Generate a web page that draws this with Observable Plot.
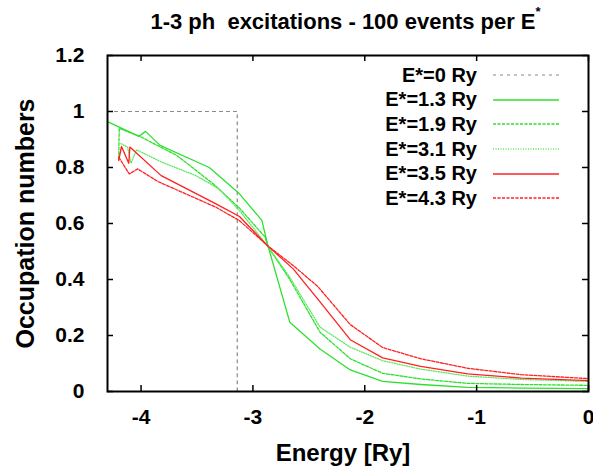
<!DOCTYPE html>
<html><head><meta charset="utf-8">
<script src="https://cdn.jsdelivr.net/npm/d3@7"></script>
<script src="https://cdn.jsdelivr.net/npm/@observablehq/plot@0.6"></script>
<style>
body{margin:0;background:#fff;}
#wrap{position:relative;width:593px;height:466px;font-family:"Liberation Sans",Arial,sans-serif;font-weight:bold;color:#000;}
#title{position:absolute;left:0;width:593px;top:9px;padding-left:98px;box-sizing:border-box;text-align:center;font-size:22px;white-space:pre;}
#title sup{font-size:13px;position:relative;top:-5px;}
#legend{position:absolute;left:340px;top:63px;}
.row{display:flex;align-items:center;height:24.6px;}
.row span{display:inline-block;width:137px;text-align:right;font-size:20px;}
.row svg{margin-left:16px;}
</style></head><body><div id="wrap"><div id="title"></div><div id="legend"></div></div>
<script>
// Series labels
const labels = ["E*=0 Ry","E*=1.3 Ry","E*=1.9 Ry","E*=3.1 Ry","E*=3.5 Ry","E*=4.3 Ry"];
// E*=0
const e0X = [-4.3, -3.14, -3.14, 0];
const e0Y = [1, 1, 0, 0];
// E*=1.3
const e13X = [-4.30, -4.02, -3.96, -3.83, -3.39, -3.12, -2.92, -2.87, -2.67, -2.40, -2.13, -1.84, -1.50, -1.08, -0.6, 0];
const e13Y = [0.964, 0.911, 0.929, 0.879, 0.80, 0.706, 0.611, 0.527, 0.247, 0.152, 0.077, 0.036, 0.025, 0.015, 0.012, 0.010];
// E*=1.9
const e19X = [-4.20, -4.195, -4.01, -3.68, -3.35, -3.12, -2.89, -2.87, -2.67, -2.40, -2.13, -1.84, -1.50, -1.08, -0.6, 0];
const e19Y = [0.83, 0.94, 0.911, 0.843, 0.74, 0.655, 0.551, 0.52, 0.40, 0.212, 0.117, 0.065, 0.045, 0.029, 0.025, 0.022];
// E*=3.1
const e31X = [-4.18, -4.12, -4.09, -4.04, -3.82, -3.51, -3.30, -3.12, -2.87, -2.67, -2.40, -2.13, -1.84, -1.50, -1.08, -0.6, 0];
const e31Y = [0.885, 0.873, 0.815, 0.863, 0.82, 0.771, 0.723, 0.646, 0.52, 0.408, 0.23, 0.158, 0.11, 0.08, 0.055, 0.043, 0.036];
// E*=3.5
const e35X = [-4.20, -4.175, -4.11, -4.10, -3.82, -3.33, -3.12, -2.87, -2.64, -2.40, -2.13, -1.84, -1.50, -1.08, -0.6, 0];
const e35Y = [0.825, 0.875, 0.815, 0.873, 0.771, 0.67, 0.625, 0.521, 0.438, 0.32, 0.185, 0.12, 0.09, 0.063, 0.048, 0.039];
// E*=4.3
const e43X = [-4.20, -4.105, -4.03, -3.85, -3.33, -3.12, -2.87, -2.64, -2.42, -2.13, -1.84, -1.50, -1.08, -0.6, 0];
const e43Y = [0.837, 0.777, 0.795, 0.75, 0.658, 0.61, 0.521, 0.45, 0.375, 0.239, 0.157, 0.117, 0.083, 0.06, 0.046];
// ticks
const xTicks = [-4, -3, -2, -1, 0];
const yTicks = [0, 0.2, 0.4, 0.6, 0.8, 1, 1.2];

const seriesX = [e0X, e13X, e19X, e31X, e35X, e43X];
const seriesY = [e0Y, e13Y, e19Y, e31Y, e35Y, e43Y];
const styles = [
  {stroke: "#888", strokeDasharray: "3,4", strokeWidth: 1.2},
  {stroke: "#2ee02e", strokeWidth: 1.3},
  {stroke: "#2ee02e", strokeDasharray: "3,1.5", strokeWidth: 1.3},
  {stroke: "#5ce85c", strokeDasharray: "1,1.5", strokeWidth: 1.3},
  {stroke: "#ff2020", strokeWidth: 1.3},
  {stroke: "#ff2020", strokeDasharray: "3,1.5", strokeWidth: 1.3}
];

const rows = labels.map((s, i) => seriesX[i].map((x, j) => ({s, x, y: seriesY[i][j]})));

const W = 593, H = 466, mL = 107, mR = 5, mT = 55, mB = 75;
const innerH = H - mT - mB, innerW = W - mL - mR;
const tickFont = {fontSize: 21, fontWeight: "bold"};

const chart = Plot.plot({
  width: W, height: H,
  marginLeft: mL, marginRight: mR, marginTop: mT, marginBottom: mB,
  style: {fontFamily: '"Liberation Sans", Arial, sans-serif', background: "white", overflow: "visible"},
  x: {domain: [-4.3, 0]},
  y: {domain: [0, 1.2]},
  marks: [
    ...rows.map((r, i) => Plot.line(r, {x: "x", y: "y", ...styles[i]})),
    Plot.tickX(xTicks, {x: d => d, insetTop: innerH - 6, stroke: "black", strokeWidth: 1.5}),
    Plot.tickX(xTicks, {x: d => d, insetBottom: innerH - 6, stroke: "black", strokeWidth: 1.5}),
    Plot.tickY(yTicks, {y: d => d, insetRight: innerW - 6, stroke: "black", strokeWidth: 1.5}),
    Plot.tickY(yTicks, {y: d => d, insetLeft: innerW - 6, stroke: "black", strokeWidth: 1.5}),
    Plot.axisX(xTicks, {tickSize: 0, tickPadding: 18, tickFormat: d => String(d), label: null, ...tickFont, fill: "black"}),
    Plot.axisY(yTicks, {tickSize: 0, tickPadding: 23, tickFormat: d => String(d), label: null, ...tickFont, fill: "black"}),
    Plot.frame({stroke: "black", strokeWidth: 2}),
    Plot.text(["Energy [Ry]"], {frameAnchor: "bottom", dy: 69, dx: -5, text: d => d, fontSize: 24, fontWeight: "bold", fill: "black"}),
    Plot.text(["Occupation numbers"], {frameAnchor: "left", dx: -82, rotate: -90, textAnchor: "middle", text: d => d, fontSize: 25, fontWeight: "bold", fill: "black"})
  ]
});
document.getElementById("wrap").prepend(chart);

document.getElementById("title").innerHTML = "1-3 ph  excitations - 100 events per E<sup>*</sup>";

const legend = document.getElementById("legend");
labels.forEach((lab, i) => {
  const st = styles[i];
  const row = document.createElement("div");
  row.className = "row";
  row.innerHTML = `<span>${lab}</span><svg width="66" height="4"><line x1="0" y1="2" x2="66" y2="2" stroke="${st.stroke}" stroke-width="${st.strokeWidth}" ${st.strokeDasharray ? `stroke-dasharray="${st.strokeDasharray}"` : ""}/></svg>`;
  legend.appendChild(row);
});
</script>
</body></html>
